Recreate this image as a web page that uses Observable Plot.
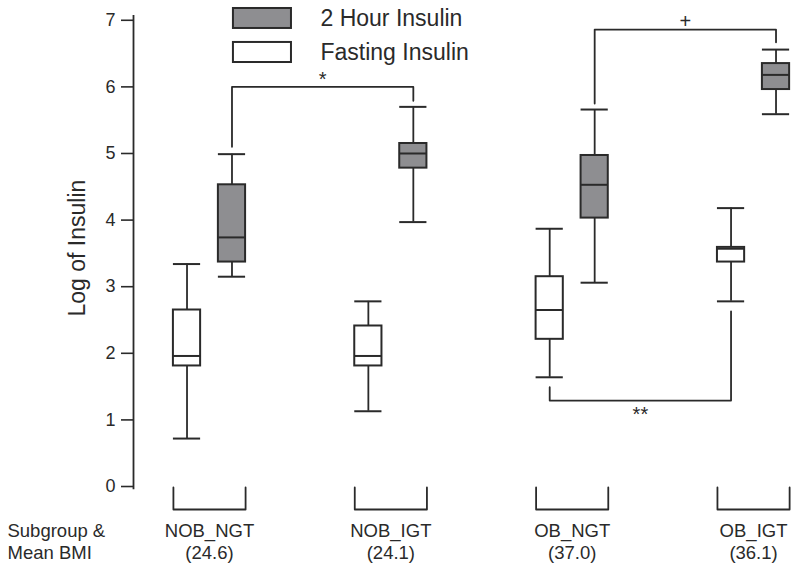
<!DOCTYPE html>
<html>
<head>
<meta charset="utf-8">
<script src="https://cdn.jsdelivr.net/npm/d3@7"></script>
<script src="https://cdn.jsdelivr.net/npm/@observablehq/plot@0.6"></script>
<style>
  html, body { margin: 0; padding: 0; background: #fff; }
  #chart svg { display: block; }
</style>
</head>
<body>
<div id="chart"></div>
<script>
// ---- data ----
const groups = ["NOB_NGT", "NOB_IGT", "OB_NGT", "OB_IGT"];
const bmiLabels = ["(24.6)", "(24.1)", "(37.0)", "(36.1)"];
const seriesNames = ["Fasting Insulin", "2 Hour Insulin"];
// [min, q1, median, q3, max] per group
const fastingStats = [
  [0.72, 1.81, 1.96, 2.65, 3.34],
  [1.13, 1.81, 1.96, 2.41, 2.78],
  [1.64, 2.21, 2.65, 3.15, 3.87],
  [2.78, 3.37, 3.57, 3.59, 4.18]
];
const twoHourStats = [
  [3.15, 3.37, 3.74, 4.53, 4.99],
  [3.97, 4.78, 5.00, 5.15, 5.70],
  [3.06, 4.03, 4.53, 4.97, 5.66],
  [5.59, 5.96, 6.18, 6.35, 6.56]
];
// significance comparisons: from group/series to group/series
const compLabels = ["*", "+", "**"];
const compFrom = [[0, 1], [2, 1], [2, 0]];
const compTo = [[1, 1], [3, 1], [3, 0]];
const compLevel = [6.0, 6.86, 1.29];
const compEndFrom = [5.1, 5.75, 1.49];
const compEndTo = [5.79, 6.67, 2.63];
const yTicks = [0, 1, 2, 3, 4, 5, 6, 7];

// ---- layout helpers ----
const off = [-0.124, 0.124];
const hw = 0.075;
const fills = ["#ffffff", "#8e8e91"];
const ink = "#2a2a2a";
const font = "Liberation Sans, Arial, Helvetica, sans-serif";

const boxes = [];
groups.forEach((g, i) => {
  [fastingStats, twoHourStats].forEach((st, s) => {
    const [mn, q1, md, q3, mx] = st[i];
    boxes.push({group: g, series: seriesNames[s], x: i + off[s], min: mn, q1, med: md, q3, max: mx, fill: fills[s]});
  });
});

const compLines = [];
compLabels.forEach((lab, k) => {
  const xa = compFrom[k][0] + off[compFrom[k][1]];
  const xb = compTo[k][0] + off[compTo[k][1]];
  [[xa, compEndFrom[k]], [xa, compLevel[k]], [xb, compLevel[k]], [xb, compEndTo[k]]]
    .forEach(([x, y]) => compLines.push({k, x, y}));
});
const compText = compLabels.map((lab, k) => ({
  label: lab,
  above: compLevel[k] > compEndFrom[k],
  x: (compFrom[k][0] + off[compFrom[k][1]] + compTo[k][0] + off[compTo[k][1]]) / 2,
  y: compLevel[k] > compEndFrom[k] ? compLevel[k] + 0.02 : compLevel[k] - 0.1
}));

const brackets = [];
groups.forEach((g, i) => {
  const a = i + off[0] - hw, b = i + off[1] + hw;
  [[a, -0.015], [a, -0.345], [b, -0.345], [b, -0.015]].forEach(([x, y]) => brackets.push({g, x, y}));
});

const legend = [
  {name: seriesNames[1], fill: fills[1], x1: 0.132, x2: 0.452, y1: 6.877, y2: 7.177, tx: 0.612, ty: 7.03},
  {name: seriesNames[0], fill: fills[0], x1: 0.132, x2: 0.452, y1: 6.366, y2: 6.667, tx: 0.612, ty: 6.52}
];

const groupLabels = groups.map((g, i) => ({name: g, bmi: bmiLabels[i], x: i}));

const chart = Plot.plot({
  width: 800,
  height: 571,
  marginLeft: 133,
  marginRight: 0,
  marginTop: 0,
  marginBottom: 0,
  style: {fontFamily: font, color: ink, background: "#fff", overflow: "visible"},
  x: {domain: [-0.4191, 3.259], range: [133, 800], axis: null},
  y: {domain: [-1.276, 7.297], range: [571, 0]},
  marks: [
    // y axis line
    Plot.ruleX([-0.4191], {y1: -0.05, y2: 7.07, stroke: ink, strokeWidth: 1.8}),
    Plot.axisY(yTicks, {tickSize: 12, tickPadding: 6, fontSize: 18, stroke: ink, strokeWidth: 1.6, fill: ink, label: null, tickFormat: d => d}),
    Plot.text(["Log of Insulin"], {x: -0.728, y: 3.58, rotate: -90, fontSize: 23, fill: ink, textAnchor: "middle"}),
    // whiskers
    Plot.ruleX(boxes, {x: "x", y1: "q3", y2: "max", stroke: ink, strokeWidth: 1.8}),
    Plot.ruleX(boxes, {x: "x", y1: "min", y2: "q1", stroke: ink, strokeWidth: 1.8}),
    Plot.ruleY(boxes, {y: "max", x1: d => d.x - hw, x2: d => d.x + hw, stroke: ink, strokeWidth: 2}),
    Plot.ruleY(boxes, {y: "min", x1: d => d.x - hw, x2: d => d.x + hw, stroke: ink, strokeWidth: 2}),
    // boxes
    Plot.rect(boxes, {x1: d => d.x - hw, x2: d => d.x + hw, y1: "q1", y2: "q3", fill: "fill", stroke: ink, strokeWidth: 2}),
    Plot.ruleY(boxes, {y: "med", x1: d => d.x - hw, x2: d => d.x + hw, stroke: ink, strokeWidth: 2}),
    // comparisons
    Plot.line(compLines, {x: "x", y: "y", z: "k", stroke: ink, strokeWidth: 1.8, curve: "linear"}),
    Plot.text(compText.filter(d => d.above), {x: "x", y: "y", text: "label", lineAnchor: "bottom", fontSize: 20, fill: ink}),
    Plot.text(compText.filter(d => !d.above), {x: "x", y: "y", text: "label", lineAnchor: "top", fontSize: 20, fill: ink}),
    // bottom group brackets
    Plot.line(brackets, {x: "x", y: "y", z: "g", stroke: ink, strokeWidth: 1.8}),
    Plot.text(groupLabels, {x: "x", y: -0.676, text: "name", fontSize: 18.5, fill: ink}),
    Plot.text(groupLabels, {x: "x", y: -1.006, text: "bmi", fontSize: 18.5, fill: ink}),
    Plot.text(["Subgroup &"], {x: -1.114, y: -0.676, textAnchor: "start", fontSize: 18.5, fill: ink}),
    Plot.text(["Mean BMI"], {x: -1.114, y: -1.006, textAnchor: "start", fontSize: 18.5, fill: ink}),
    // legend
    Plot.rect(legend, {x1: "x1", x2: "x2", y1: "y1", y2: "y2", fill: "fill", stroke: ink, strokeWidth: 2}),
    Plot.text(legend, {x: "tx", y: "ty", text: "name", textAnchor: "start", fontSize: 23, fill: ink})
  ]
});
document.getElementById("chart").appendChild(chart);
</script>
</body>
</html>
